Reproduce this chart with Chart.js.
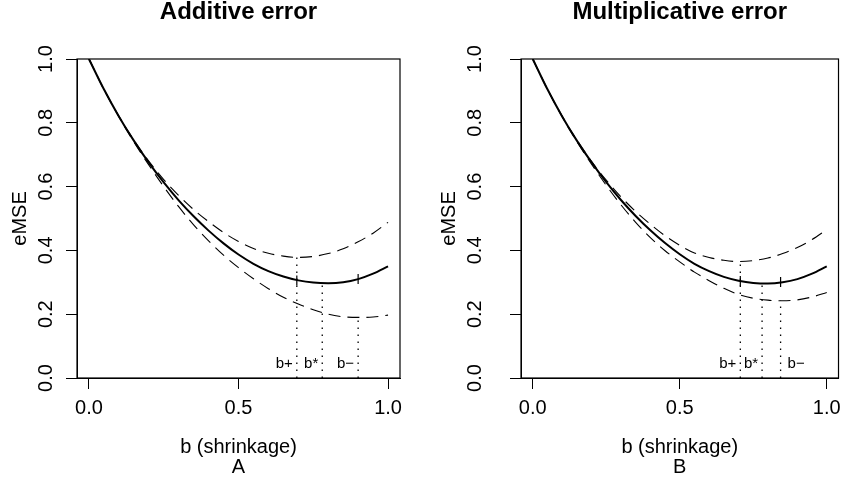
<!DOCTYPE html>
<html>
<head>
<meta charset="utf-8">
<script src="https://cdn.jsdelivr.net/npm/chart.js@4.4.0/dist/chart.umd.min.js"></script>
<style>
    body { margin: 0; background: #fff; }
    #wrap { position: relative; width: 848px; height: 478px; }
    #wrap canvas { position: absolute; top: 0; }
</style>
</head>
<body>
<div id="wrap">
    <canvas id="chartA" width="424" height="478" style="left:0"></canvas>
    <canvas id="chartB" width="424" height="478" style="left:424px"></canvas>
</div>
<script>
var shrinkage = [0, 0.05, 0.1, 0.15, 0.2, 0.25, 0.3, 0.35, 0.4, 0.45, 0.5,
                 0.55, 0.6, 0.65, 0.7, 0.75, 0.8, 0.85, 0.9, 0.95, 1.0];

// A: additive error
var additiveTrue  = [1.000, 0.905, 0.820, 0.744, 0.675, 0.613, 0.557, 0.507, 0.462, 0.422, 0.387,
                     0.358, 0.335, 0.318, 0.306, 0.299, 0.297, 0.300, 0.310, 0.327, 0.350];
var additiveUpper = [1.000, 0.905, 0.821, 0.746, 0.680, 0.622, 0.572, 0.528, 0.490, 0.456, 0.428,
                     0.406, 0.391, 0.382, 0.378, 0.381, 0.390, 0.405, 0.427, 0.454, 0.488];
var additiveLower = [1.000, 0.905, 0.819, 0.740, 0.668, 0.600, 0.537, 0.480, 0.430, 0.385, 0.346,
                     0.311, 0.280, 0.253, 0.232, 0.214, 0.200, 0.192, 0.190, 0.191, 0.197];

// B: multiplicative error
var multTrue  = [1.000, 0.905, 0.820, 0.744, 0.676, 0.614, 0.558, 0.508, 0.463, 0.423, 0.388,
                 0.358, 0.335, 0.317, 0.305, 0.298, 0.296, 0.300, 0.310, 0.327, 0.350];
var multUpper = [1.000, 0.905, 0.821, 0.746, 0.679, 0.620, 0.568, 0.522, 0.482, 0.446, 0.416,
                 0.392, 0.378, 0.369, 0.365, 0.368, 0.376, 0.390, 0.409, 0.434, 0.465];
var multLower = [1.000, 0.905, 0.819, 0.741, 0.670, 0.604, 0.543, 0.488, 0.440, 0.399, 0.364,
                 0.332, 0.305, 0.281, 0.262, 0.250, 0.244, 0.242, 0.245, 0.254, 0.268];

// b+, b*, b- positions and the height each dotted line reaches
var markLabels = ['b+', 'b*', 'b\u2212'];
var additiveMarks = [0.695, 0.78, 0.90];
var additiveMarkTops = [0.378, 0.297, 0.190];
var additiveTickY = [0.306, 0.310];
var multMarks = [0.706, 0.78, 0.843];
var multMarkTops = [0.365, 0.295, 0.242];
var multTickY = [0.304, 0.301];

var xTicks = [0, 0.5, 1.0];
var yTicks = [0, 0.2, 0.4, 0.6, 0.8, 1.0];

var FONT = '"Liberation Sans", Arial, Helvetica, sans-serif';
Chart.defaults.font.family = FONT;
Chart.defaults.color = '#000';
Chart.defaults.animation = false;

var frame = {
    id: 'frame',
    afterDraw: function (chart) {
        var a = chart.chartArea, c = chart.ctx;
        c.save();
        c.strokeStyle = '#000';
        c.lineWidth = 1.2;
        c.strokeRect(a.left, a.top, a.right - a.left, a.bottom - a.top);
        c.restore();
    }
};

var markText = {
    id: 'markText',
    afterDatasetsDraw: function (chart, args, opts) {
        var c = chart.ctx, xs = chart.scales.x, ys = chart.scales.y;
        c.save();
        c.font = '15px ' + FONT;
        c.fillStyle = '#000';
        c.textBaseline = 'alphabetic';
        opts.marks.forEach(function (b, i) {
            var px = xs.getPixelForValue(b);
            var right = opts.sides[i] === 'right';
            c.textAlign = right ? 'left' : 'right';
            c.fillText(markLabels[i], px + (right ? 7 : -4), ys.getPixelForValue(0.031));
        });
        c.restore();
    }
};

function pts(ys) {
    return shrinkage.map(function (b, i) { return {x: b, y: ys[i]}; });
}

function buildPanel(id, cfg) {
    var datasets = [
        {data: pts(cfg.truth), borderColor: '#000', borderWidth: 2, pointRadius: 0, cubicInterpolationMode: 'monotone'},
        {data: pts(cfg.upper), borderColor: '#000', borderWidth: 1.1, borderDash: [12, 7], pointRadius: 0, cubicInterpolationMode: 'monotone'},
        {data: pts(cfg.lower), borderColor: '#000', borderWidth: 1.1, borderDash: [12, 7], pointRadius: 0, cubicInterpolationMode: 'monotone'}
    ];
    cfg.marks.forEach(function (b, i) {
        datasets.push({
            data: [{x: b, y: 0}, {x: b, y: cfg.markTops[i]}],
            borderColor: '#000', borderWidth: 1.3, borderDash: [1.5, 5.5], pointRadius: 0
        });
    });
    // little ticks on the solid curve at b+ and b-
    datasets.push({
        data: [{x: cfg.marks[0], y: cfg.tickY[0]}, {x: cfg.marks[2], y: cfg.tickY[1]}],
        showLine: false, pointStyle: 'line', rotation: 90, pointRadius: 5,
        borderColor: '#000', borderWidth: 1.2
    });

    var ctx = document.getElementById(id).getContext('2d');
    return new Chart(ctx, {
        type: 'line',
        data: {datasets: datasets},
        plugins: [frame, markText],
        options: {
            responsive: false,
            devicePixelRatio: 1,
            layout: {padding: {left: 0, right: cfg.padRight, top: 0, bottom: 0}},
            plugins: {
                legend: {display: false},
                tooltip: {enabled: false},
                title: {
                    display: true, text: cfg.title, fullSize: false, color: '#000',
                    font: {size: 24, weight: 'bold', lineHeight: 1},
                    padding: {top: 0, bottom: 35}
                },
                markText: {marks: cfg.marks, sides: cfg.sides}
            },
            scales: {
                x: {
                    type: 'linear', min: -0.04, max: 1.04,
                    afterBuildTicks: function (s) { s.ticks = xTicks.map(function (v) { return {value: v}; }); },
                    afterFit: function (s) { s.height = 100; },
                    grid: {drawOnChartArea: false, tickLength: 11, color: '#000', tickColor: '#000'},
                    border: {display: true, color: '#000'},
                    ticks: {
                        font: {size: 20}, color: '#000', padding: 7, maxRotation: 0, autoSkip: false,
                        callback: function (v) { return v.toFixed(1); }
                    },
                    title: {
                        display: true, text: ['b (shrinkage)', cfg.letter], color: '#000',
                        font: {size: 20, lineHeight: 1.0}, padding: {top: 0, bottom: 1}
                    }
                },
                y: {
                    min: 0, max: 1,
                    afterBuildTicks: function (s) { s.ticks = yTicks.map(function (v) { return {value: v}; }); },
                    afterFit: function (s) { s.width = cfg.left; },
                    grid: {drawOnChartArea: false, tickLength: 11, color: '#000', tickColor: '#000'},
                    border: {display: true, color: '#000'},
                    ticks: {
                        font: {size: 20}, color: '#000', padding: cfg.tickPad,
                        minRotation: 90, maxRotation: 90, crossAlign: 'center', autoSkip: false,
                        callback: function (v) { return v.toFixed(1); }
                    },
                    title: {
                        display: true, text: 'eMSE', color: '#000',
                        font: {size: 20}, padding: {top: cfg.titlePad, bottom: 0}
                    }
                }
            }
        }
    });
}

buildPanel('chartA', {
    title: 'Additive error', letter: 'A',
    truth: additiveTrue, upper: additiveUpper, lower: additiveLower,
    marks: additiveMarks, markTops: additiveMarkTops, tickY: additiveTickY,
    sides: ['left', 'left', 'left'],
    left: 77, padRight: 24, tickPad: 6, titlePad: 8
});

buildPanel('chartB', {
    title: 'Multiplicative error', letter: 'B',
    truth: multTrue, upper: multUpper, lower: multLower,
    marks: multMarks, markTops: multMarkTops, tickY: multTickY,
    sides: ['left', 'left', 'right'],
    left: 97, padRight: 4, tickPad: 21, titlePad: 13
});
</script>
</body>
</html>
